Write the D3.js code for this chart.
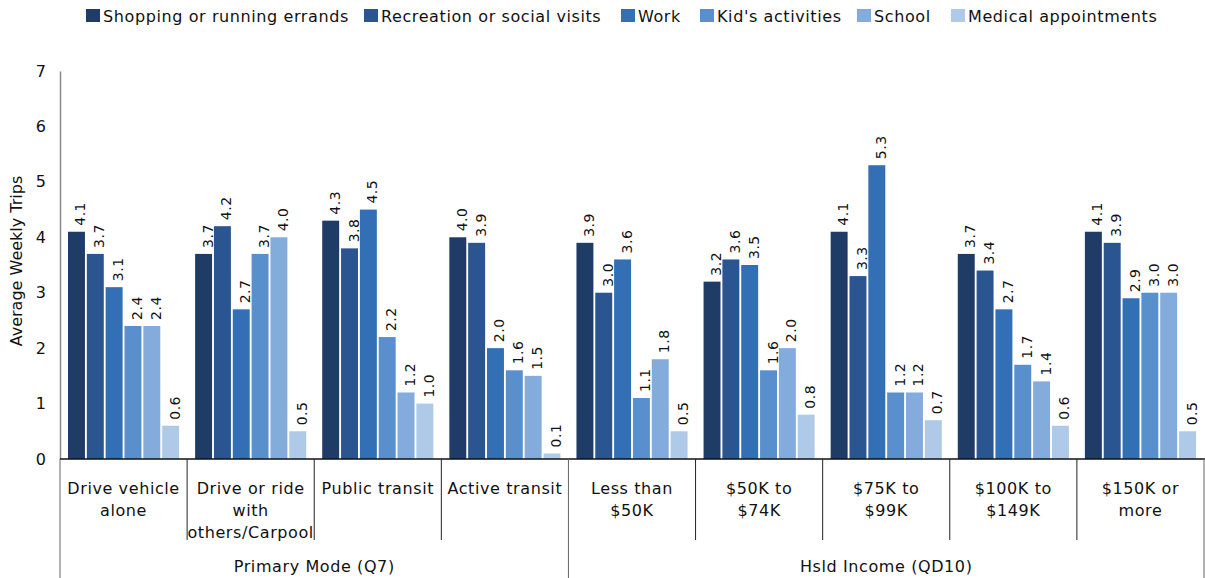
<!DOCTYPE html>
<html>
<head>
<meta charset="utf-8">
<script src="https://cdn.jsdelivr.net/npm/d3@7"></script>
<style>
  html, body { margin: 0; padding: 0; background: #fff; }
  svg { display: block; font-family: "DejaVu Sans", sans-serif; }
</style>
</head>
<body>
<svg id="chart" width="1205" height="578"></svg>
<script>
// Trip purposes (series) and their colours
const purposes = ["Shopping or running errands", "Recreation or social visits", "Work", "Kid's activities", "School", "Medical appointments"];
const colors = ["#1f3c66", "#2a5590", "#326fb5", "#5a8fce", "#83abdc", "#aecae8"];

// Categories (label lines) and the two groups they fall under
const categories = [
  ["Drive vehicle", "alone"],
  ["Drive or ride", "with", "others/Carpool"],
  ["Public transit"],
  ["Active transit"],
  ["Less than", "$50K"],
  ["$50K to", "$74K"],
  ["$75K to", "$99K"],
  ["$100K to", "$149K"],
  ["$150K or", "more"]
];
const groups = ["Primary Mode (Q7)", "Hsld Income (QD10)"];
const groupSizes = [4, 5];

// Average weekly trips per category, in purpose order
const driveAlone   = [4.1, 3.7, 3.1, 2.4, 2.4, 0.6];
const carpool      = [3.7, 4.2, 2.7, 3.7, 4.0, 0.5];
const publicTrans  = [4.3, 3.8, 4.5, 2.2, 1.2, 1.0];
const activeTrans  = [4.0, 3.9, 2.0, 1.6, 1.5, 0.1];
const under50k     = [3.9, 3.0, 3.6, 1.1, 1.8, 0.5];
const inc50to74    = [3.2, 3.6, 3.5, 1.6, 2.0, 0.8];
const inc75to99    = [4.1, 3.3, 5.3, 1.2, 1.2, 0.7];
const inc100to149  = [3.7, 3.4, 2.7, 1.7, 1.4, 0.6];
const inc150plus   = [4.1, 3.9, 2.9, 3.0, 3.0, 0.5];
const values = [driveAlone, carpool, publicTrans, activeTrans, under50k, inc50to74, inc75to99, inc100to149, inc150plus];

const yTicks = [0, 1, 2, 3, 4, 5, 6, 7];

const svg = d3.select("#chart");
const plotL = 60, plotR = 1204, plotT = 71, plotB = 459;
const FS = 16, LS = 0.6;

const x0 = d3.scaleBand().domain(d3.range(categories.length)).range([plotL, plotR]).paddingInner(0).paddingOuter(0);
const x1 = d3.scaleBand().domain(d3.range(purposes.length)).range([8, x0.bandwidth() - 8]).paddingInner(0.1);
const y = d3.scaleLinear().domain([0, 7]).range([plotB, plotT]);

// Y axis
const yAxis = svg.append("g").attr("transform", `translate(${plotL},0)`)
  .call(d3.axisLeft(y).tickValues(yTicks).tickSize(0).tickPadding(14).tickFormat(d3.format("d")));
yAxis.select(".domain").attr("stroke", "#8a8a8a").attr("stroke-width", 1.5);
yAxis.selectAll("text").attr("font-size", FS).attr("fill", "#111").attr("font-family", "DejaVu Sans");

svg.append("text")
  .attr("transform", `translate(22,${(plotT + plotB) / 2 - 4}) rotate(-90)`)
  .attr("text-anchor", "middle")
  .attr("font-size", FS).attr("fill", "#111")
  .text("Average Weekly Trips");

// Bars
const cat = svg.selectAll("g.cat").data(values).join("g")
  .attr("class", "cat")
  .attr("transform", (d, i) => `translate(${x0(i)},0)`);

cat.selectAll("rect").data(d => d).join("rect")
  .attr("x", (d, j) => x1(j))
  .attr("width", x1.bandwidth())
  .attr("y", d => y(d))
  .attr("height", d => y(0) - y(d))
  .attr("fill", (d, j) => colors[j]);

// Value labels, rotated, sitting just above each bar
cat.selectAll("text.val").data(d => d).join("text")
  .attr("class", "val")
  .attr("transform", (d, j) => `translate(${x1(j) + x1.bandwidth() / 2 + 9},${y(d) - 6}) rotate(-90)`)
  .attr("font-size", 14).attr("letter-spacing", 0.5).attr("fill", "#111")
  .text(d => d.toFixed(1));

// Category axis with divider lines
svg.append("line").attr("x1", plotL).attr("x2", plotR + 1).attr("y1", plotB).attr("y2", plotB)
  .attr("stroke", "#111").attr("stroke-width", 1.5);

const groupEdges = [0];
groupSizes.forEach(s => groupEdges.push(groupEdges[groupEdges.length - 1] + s));

d3.range(categories.length + 1).forEach(i => {
  const xe = i < categories.length ? x0(i) : plotR;
  const isGroupEdge = groupEdges.includes(i);
  svg.append("line")
    .attr("x1", xe).attr("x2", xe)
    .attr("y1", plotB).attr("y2", isGroupEdge ? 578 : 540)
    .attr("stroke", isGroupEdge ? "#666" : "#222").attr("stroke-width", 1);
});

categories.forEach((lines, i) => {
  const cx = x0(i) + x0.bandwidth() / 2;
  const t = svg.append("text")
    .attr("x", cx)
    .attr("y", 494)
    .attr("text-anchor", "middle")
    .attr("font-size", FS).attr("letter-spacing", LS).attr("fill", "#111");
  lines.forEach((ln, k) => t.append("tspan").attr("x", cx).attr("dy", k === 0 ? 0 : 22).text(ln));
});

groups.forEach((g, gi) => {
  const a = x0(groupEdges[gi]);
  const b = groupEdges[gi + 1] < categories.length ? x0(groupEdges[gi + 1]) : plotR;
  svg.append("text")
    .attr("x", (a + b) / 2).attr("y", 572)
    .attr("text-anchor", "middle")
    .attr("font-size", FS).attr("letter-spacing", LS).attr("fill", "#111")
    .text(g);
});

// Legend
const legendX = [86, 364, 621, 700, 857, 951];
const legend = svg.selectAll("g.leg").data(purposes).join("g")
  .attr("class", "leg")
  .attr("transform", (d, i) => `translate(${legendX[i]},9)`);
legend.append("rect").attr("width", 14).attr("height", 13).attr("y", 0).attr("fill", (d, i) => colors[i]);
legend.append("text").attr("x", 17).attr("y", 12.5).attr("font-size", FS).attr("letter-spacing", LS).attr("fill", "#111").text(d => d);
</script>
</body>
</html>
